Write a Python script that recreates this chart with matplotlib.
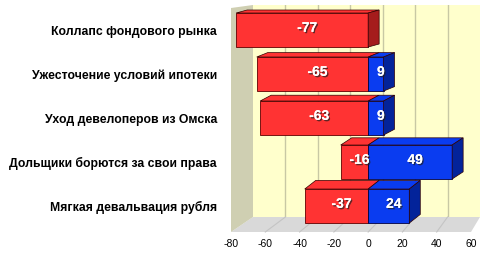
import matplotlib
matplotlib.use("Agg")
import matplotlib.pyplot as plt
import matplotlib.patheffects as pe
from matplotlib.patches import Polygon
from matplotlib.transforms import IdentityTransform, offset_copy

categories = ["Коллапс фондового рынка", "Ужесточение условий ипотеки",
              "Уход девелоперов из Омска", "Дольщики борются за свои права",
              "Мягкая девальвация рубля"]
negative = [-77, -65, -63, -16, -37]
positive = [0, 9, 9, 49, 24]
xticks = [-80, -60, -40, -20, 0, 20, 40, 60]

plt.rcParams['font.family'] = ['Liberation Sans', 'DejaVu Sans']
plt.rcParams['axes.unicode_minus'] = False

W, H = 480, 254
fig = plt.figure(figsize=(W/100, H/100), dpi=100)

def box(x0, y0, x1, y1):
    # pixel box (top-down) -> figure fraction rect
    return [x0/W, 1 - y1/H, (x1 - x0)/W, (y1 - y0)/H]

# back wall
axb = fig.add_axes(box(253, 5, 480, 217), zorder=0)
axb.set_facecolor('#FFFFCC')
axb.set_xlim(-80, 60)
axb.set_ylim(0, 1)
for v in xticks[1:-1]:
    axb.axvline(v, color='#C8C8A4', lw=1)
axb.set_xticks([])
axb.set_yticks([])
for s in axb.spines.values():
    s.set_visible(False)

# front plane
ax = fig.add_axes(box(231, 8, 471, 232), zorder=2)
ax.set_facecolor('none')
ax.set_xlim(-80, 60)
ax.set_ylim(4.59, -0.5)
for s in ax.spines.values():
    s.set_visible(False)
ax.set_xticks(xticks, [str(v) for v in xticks], fontsize=7.5)
ax.set_yticks(range(len(categories)), categories, fontsize=8.8, fontweight='bold')
ax.tick_params(axis='x', length=0, pad=5)
ax.tick_params(axis='y', length=0, pad=10)

def disp(a, x, y):
    return a.transData.transform((x, y))

# floor and left wall
fl, fr = disp(ax, -80, 4.59), disp(ax, 60, 4.59)
bl, br = disp(axb, -80, 0), disp(axb, 60, 0)
ftl, btl = disp(ax, -80, -0.5), disp(axb, -80, 1)
fig.add_artist(Polygon([fl, fr, br, bl], closed=True, transform=IdentityTransform(),
                       facecolor='#D9D9D9', edgecolor='none', zorder=1))
fig.add_artist(Polygon([fl, ftl, btl, bl], closed=True, transform=IdentityTransform(),
                       facecolor='#CFCFB2', edgecolor='none', zorder=1))
for v in xticks[1:-1]:
    p, q = disp(ax, v, 4.59), disp(axb, v, 0)
    fig.add_artist(plt.Line2D([p[0], q[0]], [p[1], q[1]], transform=IdentityTransform(),
                              color='#C4C4C4', lw=0.8, zorder=1.1))

h = 0.773
red, red_dark = '#FF3333', '#A51C1C'
blue, blue_dark = '#0A3CF0', '#03239A'
ax.barh(range(len(categories)), [-v for v in negative], left=negative, height=h,
        color=red, edgecolor='#600000', lw=0.6, zorder=3)
ax.barh(range(len(categories)), positive, left=0, height=h,
        color=blue, edgecolor='#000040', lw=0.6, zorder=3)

def face(pts, color):
    ax.add_patch(Polygon(pts, closed=True, transform=IdentityTransform(), clip_on=False,
                         facecolor=color, edgecolor='#300000', lw=0.5, zorder=3))

dx = 11
for i in range(len(categories)):
    dy = 3 + 1.4 * i
    top = i - h/2
    bot = i + h/2
    segs = [(negative[i], 0, red, red_dark)]
    if positive[i] > 0:
        segs.append((0, positive[i], blue, blue_dark))
    for x0, x1, c, cd in segs:
        a, b = disp(ax, x0, top), disp(ax, x1, top)
        face([a, b, b + (dx, dy), a + (dx, dy)], c)
    x_end, c_end = segs[-1][1], segs[-1][3]
    a, b = disp(ax, x_end, top), disp(ax, x_end, bot)
    face([a, b, b + (dx, dy), a + (dx, dy)], c_end)

shadow = [pe.withSimplePatchShadow(offset=(1, -1), shadow_rgbFace='#202020', alpha=0.7), pe.Normal()]
tr = offset_copy(ax.transData, fig=fig, x=5, y=0, units='dots')
for i in range(len(categories)):
    ax.text(negative[i] / 2, i - 0.05, str(negative[i]), transform=tr, color='white',
            fontsize=10, fontweight='bold', ha='center', va='center', zorder=5,
            path_effects=shadow)
    if positive[i] > 0:
        ax.text(positive[i] / 2, i - 0.05, str(positive[i]), transform=tr, color='white',
                fontsize=10, fontweight='bold', ha='center', va='center', zorder=5,
                path_effects=shadow)

fig.savefig('out.png', dpi=100)
